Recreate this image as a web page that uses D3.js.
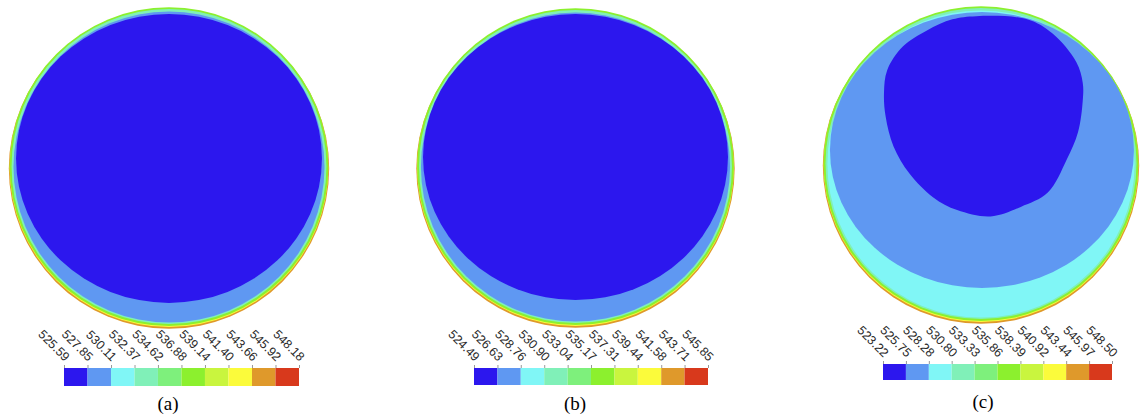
<!DOCTYPE html>
<html>
<head>
<meta charset="utf-8">
<script src="https://cdn.jsdelivr.net/npm/d3@7"></script>
<style>
  body { margin: 0; background: #fff; }
  svg { display: block; }
</style>
</head>
<body>
<svg width="1140" height="419"></svg>
<script>
// band colours, low -> high
const palette = ["#2c17ee","#5f98f2","#80f6f6","#80f0b8","#7ef07c","#8cf02e","#c9f53e","#fbfb3b","#df992b","#d8391c"]

// legend levels for each case
const levelsA = [525.59,527.85,530.11,532.37,534.62,536.88,539.14,541.40,543.66,545.92,548.18]
const levelsB = [524.49,526.63,528.76,530.90,533.04,535.17,537.31,539.44,541.58,543.71,545.85]
const levelsC = [523.22,525.75,528.28,530.80,533.33,535.86,538.39,540.92,543.44,545.97,548.50]
const captions = ["(a)", "(b)", "(c)"]

// contour regions in unit-disk coords (band index, centre, radii)
const wallRings = [
  {band: 8, cx: 0, cy: 0.010, rx: 0.995, ry: 0.995},
  {band: 7, cx: 0, cy: 0.004, rx: 0.990, ry: 0.990},
  {band: 5, cx: 0, cy: -0.002, rx: 0.990, ry: 0.990},
  {band: 3, cx: 0, cy: -0.003, rx: 0.978, ry: 0.978}
]
const regionsA = [
  {band: 1, cx: 0, cy: 0, rx: 0.966, ry: 0.966},
  {band: 0, cx: 0, cy: -0.053, rx: 0.950, ry: 0.897}
]
const regionsB = [
  {band: 1, cx: 0, cy: 0, rx: 0.966, ry: 0.966},
  {band: 0, cx: 0, cy: -0.062, rx: 0.953, ry: 0.894}
]
const regionsC = [
  {band: 2, cx: 0, cy: 0, rx: 0.966, ry: 0.966},
  {band: 1, cx: 0.006, cy: -0.088, rx: 0.956, ry: 0.868}
]
// cold core of case (c), boundary points in unit-disk coords
const coreU = [-0.03,0.29,0.45,0.60,0.64,0.64,0.61,0.54,0.42,0.25,0.06,-0.15,-0.30,-0.45,-0.55,-0.60,-0.61,-0.59,-0.49,-0.34,-0.18]
const coreV = [-0.93,-0.91,-0.82,-0.64,-0.51,-0.40,-0.20,-0.03,0.18,0.27,0.33,0.29,0.21,0.06,-0.11,-0.30,-0.45,-0.59,-0.74,-0.84,-0.91]

const svg = d3.select("svg")

const panels = [
  {cx: 169, cy: 167, r: 161, regions: regionsA, core: null, levels: levelsA, bar: [64, 299, 368, 18], cap: [168, 410]},
  {cx: 575.5, cy: 167, r: 160, regions: regionsB, core: null, levels: levelsB, bar: [474, 708, 368, 17], cap: [575, 410]},
  {cx: 981, cy: 164, r: 159, regions: regionsC, core: true, levels: levelsC, bar: [883, 1112, 364, 16], cap: [983, 408]}
]

panels.forEach(function (p, k) {
  let x = d3.scaleLinear().domain([-1, 1]).range([p.cx - p.r, p.cx + p.r])
  let y = d3.scaleLinear().domain([-1, 1]).range([p.cy - p.r, p.cy + p.r])
  let g = svg.append("g")

  g.selectAll("ellipse")
    .data(wallRings.concat(p.regions))
    .enter()
    .append("ellipse")
    .attr("cx", d => x(d.cx))
    .attr("cy", d => y(d.cy))
    .attr("rx", d => x(d.rx) - x(0))
    .attr("ry", d => y(d.ry) - y(0))
    .attr("fill", d => palette[d.band])

  if (p.core) {
    let line = d3.line()
      .x(i => x(coreU[i]))
      .y(i => y(coreV[i]))
      .curve(d3.curveCatmullRomClosed)
    g.append("path")
      .attr("d", line(d3.range(coreU.length)))
      .attr("fill", palette[0])
  }

  // colour legend
  let [x0, x1, top, h] = p.bar
  let lx = d3.scaleLinear().domain([p.levels[0], p.levels[10]]).range([x0, x1])
  let lg = svg.append("g")
  lg.selectAll("rect")
    .data(d3.range(10))
    .enter()
    .append("rect")
    .attr("x", i => lx(p.levels[i]))
    .attr("y", top)
    .attr("width", i => lx(p.levels[i + 1]) - lx(p.levels[i]))
    .attr("height", h)
    .attr("fill", i => palette[i])

  let axis = lg.append("g")
    .attr("transform", "translate(0," + top + ")")
    .call(d3.axisTop(lx).tickValues(p.levels).tickFormat(d3.format(".2f")).tickSize(3))
  axis.select(".domain").remove()
  axis.selectAll("line").attr("stroke", "#999")
  axis.selectAll("text")
    .attr("x", 0).attr("y", 0).attr("dy", 0)
    .attr("transform", "translate(0,-6) rotate(45)")
    .style("text-anchor", "end")
    .style("font-family", "'Liberation Sans', Arial, sans-serif")
    .style("font-size", "12.5px")
    .attr("fill", "#2a2a2a")

  svg.append("text")
    .attr("x", p.cap[0])
    .attr("y", p.cap[1])
    .attr("text-anchor", "middle")
    .style("font-family", "'Liberation Serif', 'Times New Roman', serif")
    .style("font-size", "19px")
    .text(captions[k])
})
</script>
</body>
</html>
